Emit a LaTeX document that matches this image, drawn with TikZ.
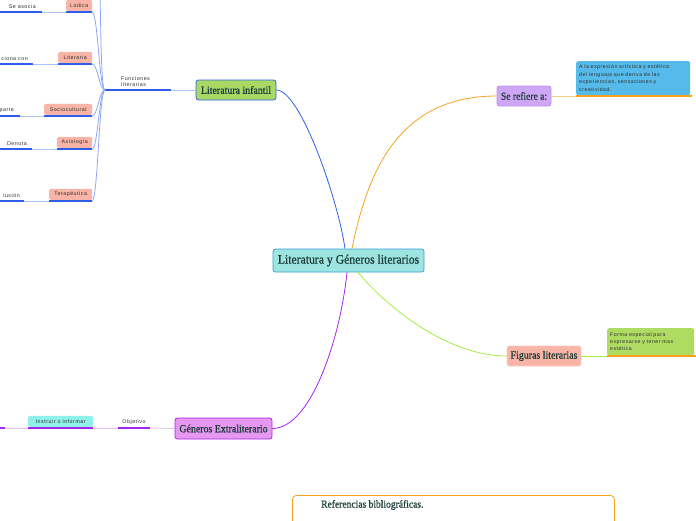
\documentclass[tikz,border=0pt]{standalone}
\usepackage{fontspec}
\setmainfont{Liberation Serif}
\newfontfamily\temafont[FakeStretch=0.9, FakeBold=0.8]{Liberation Serif}
\newfontfamily\notefont[LetterSpace=10]{Liberation Sans}
\usetikzlibrary{positioning}

\definecolor{tinta}{HTML}{1C3D38}
\definecolor{gris}{HTML}{2E2E2E}
\definecolor{azul}{HTML}{2F5FEA}
\definecolor{azulclaro}{HTML}{A9C3FB}
\definecolor{naranja}{HTML}{F5A31F}
\definecolor{naranjaclaro}{HTML}{F9CF86}
\definecolor{verde}{HTML}{A3EE45}
\definecolor{morado}{HTML}{A526EC}
\definecolor{moradoclaro}{HTML}{E4BDF4}
\definecolor{cian}{HTML}{9EE4E1}
\definecolor{cianborde}{HTML}{3A9FD4}
\definecolor{verdetema}{HTML}{A9D964}
\definecolor{lila}{HTML}{CFA6F6}
\definecolor{lilaborde}{HTML}{BE93F2}
\definecolor{salmon}{HTML}{F8B4A6}
\definecolor{salmonborde}{HTML}{F6CDBF}
\definecolor{rosa}{HTML}{E697F1}
\definecolor{celeste}{HTML}{56BBEA}
\definecolor{verdenota}{HTML}{AEDC63}
\definecolor{aqua}{HTML}{8EF1EA}

\begin{document}
\begin{tikzpicture}[x=1pt, y=-1pt,
  tema/.style={draw, rounded corners=2.5pt, line width=0.8pt, inner sep=0pt, text=tinta},
  sub/.style={fill=salmon, rounded corners=1.5pt, inner sep=0pt, minimum height=11pt, text=gris, font=\notefont\fontsize{5.3}{6}\selectfont},
  nota/.style={rounded corners=2pt, inner sep=3pt, text=gris, align=left, anchor=north west, font=\notefont\fontsize{5.2}{7.4}\selectfont},
  etiqueta/.style={inner sep=0pt, text=gris, font=\notefont\fontsize{5.3}{6.6}\selectfont},
  fuerte/.style={line width=1.2pt},
  suave/.style={line width=0.8pt}]

\useasboundingbox (0,0) rectangle (696,520);

% Tema central y ramas principales
\node[tema, fill=cian, draw=cianborde, minimum width=151pt, minimum height=23pt, font=\temafont\fontsize{13}{14}\selectfont] (central) at (348.5,260.5) {Literatura y Géneros literarios};
\node[tema, fill=verdetema, draw=azul, minimum width=80pt, minimum height=20pt, font=\temafont\fontsize{11}{12}\selectfont] (litinf) at (236,90) {Literatura infantil};
\node[tema, fill=lila, draw=lilaborde, minimum width=54pt, minimum height=20pt, font=\temafont\fontsize{10.6}{12}\selectfont] (serefiere) at (524,96) {Se refiere a:};
\node[tema, fill=salmon, draw=salmonborde, minimum width=74pt, minimum height=20pt, font=\temafont\fontsize{11}{12}\selectfont] (figuras) at (544,356) {Figuras literarias};
\node[tema, fill=rosa, draw=morado, minimum width=97pt, minimum height=21pt, font=\temafont\fontsize{11}{12}\selectfont] (generos) at (223.5,428.5) {Géneros Extraliterario};

% Conectores desde el tema central
\draw[azul, suave] ([xshift=-3.5pt]central.north) .. controls +(-7,-49) and +(24,0) .. (litinf.east);
\draw[naranja, suave] ([xshift=3.5pt]central.north) .. controls +(16,-79) and +(-97,0) .. (serefiere.west);
\draw[verde, suave] ([xshift=9.5pt]central.south) .. controls +(32,38) and +(-57,0) .. (figuras.west);
\draw[morado, suave] ([xshift=-1.5pt]central.south) .. controls +(-7,68) and +(38,0) .. (generos.east);

% Notas de la derecha
\node[nota, fill=celeste, text width=108pt, minimum height=34pt] (nota1) at (576,61) {A la expresión artística y estética\\del lenguaje que deriva de las\\experiencias, sensaciones y\\creatividad.};
\coordinate (n1a) at (576,96);
\coordinate (n1b) at (692,96);
\draw[naranjaclaro, suave] (serefiere.east) -- (n1a);
\draw[naranja, fuerte] (n1a) -- (n1b);

\node[nota, fill=verdenota, text width=81pt, minimum height=27pt] (nota2) at (607,328) {Forma especial para\\expresarse y tener mas\\estética};
\coordinate (n2a) at (607,356);
\coordinate (n2b) at (696,356);
\draw[verde, suave] (figuras.east) -- (n2a);
\draw[naranja, fuerte] (n2a) -- (n2b);

% Funciones literarias
\coordinate (rama) at (105,90);
\coordinate (func) at (171,90);
\draw[azulclaro, suave] (litinf.west) -- (func);
\draw[azul, fuerte] (func) -- (rama);
\node[etiqueta, align=left, anchor=south west] (funcl) at (121,87) {Funciones\\literarias};
\draw[azul!55, suave] (rama) .. controls +(-6,0) and +(5,0) .. (97,-40);

\foreach \n/\lab/\y/\bx/\txt/\tx/\dx in {
  ludica/Lúdica/12/66/Se asocia/36/42,
  literaria/Literaria/64/58/ciona con/28/33,
  socio/Sociocultural/116/44/parte/14/20,
  axio/Axiología/149/57/Denota/27/32,
  tera/Terapéutica/201/49/lusión/20/24} {
  \pgfmathsetmacro{\w}{92-\bx}
  \node[sub, minimum width=\w pt, anchor=south west] (\n) at (\bx,\y-1) {\lab};
  \coordinate (\n-l) at (\bx,\y);
  \coordinate (\n-r) at (92,\y);
  \coordinate (\n-d) at (\dx,\y);
  \coordinate (\n-o) at (0,\y);
  \draw[azul, fuerte] (\n-l) -- (\n-r);
  \draw[azul!55, suave] (rama) .. controls +(-6,0) and +(6,0) .. (\n-r);
  \node[etiqueta, anchor=south east] (\n-t) at (\tx,\y-3) {\txt};
  \draw[azulclaro, suave] (\n-d) -- (\n-l);
  \draw[azul, fuerte] (\n-o) -- (\n-d);
}

% Objetivo
\coordinate (obj) at (150,428);
\coordinate (objl) at (118,428);
\draw[moradoclaro, suave] (generos.west) -- (obj);
\draw[morado, fuerte] (obj) -- (objl);
\node[etiqueta, anchor=south] (objt) at (134,425) {Objetivo};
\node[sub, fill=aqua, minimum width=65pt, anchor=south west] (instruir) at (28,427) {Instruir o informar};
\coordinate (ins-l) at (28,428);
\coordinate (ins-r) at (93,428);
\coordinate (ins-f) at (5,428);
\coordinate (ins-o) at (0,428);
\draw[moradoclaro, suave] (objl) -- (ins-r);
\draw[morado, fuerte] (ins-r) -- (ins-l);
\draw[moradoclaro, suave] (ins-l) -- (ins-f);
\draw[morado, fuerte] (ins-f) -- (ins-o);

% Referencias
\node[draw=naranja, fill=white, rounded corners=4pt, line width=0.8pt, minimum width=322pt, minimum height=40pt, inner sep=0pt, anchor=north west] (refs) at (292,495) {};
\node[inner sep=0pt, anchor=west, text=tinta, font=\temafont\fontsize{10.6}{12}\selectfont] (refst) at (321,505) {Referencias bibliográficas.};

\end{tikzpicture}
\end{document}
